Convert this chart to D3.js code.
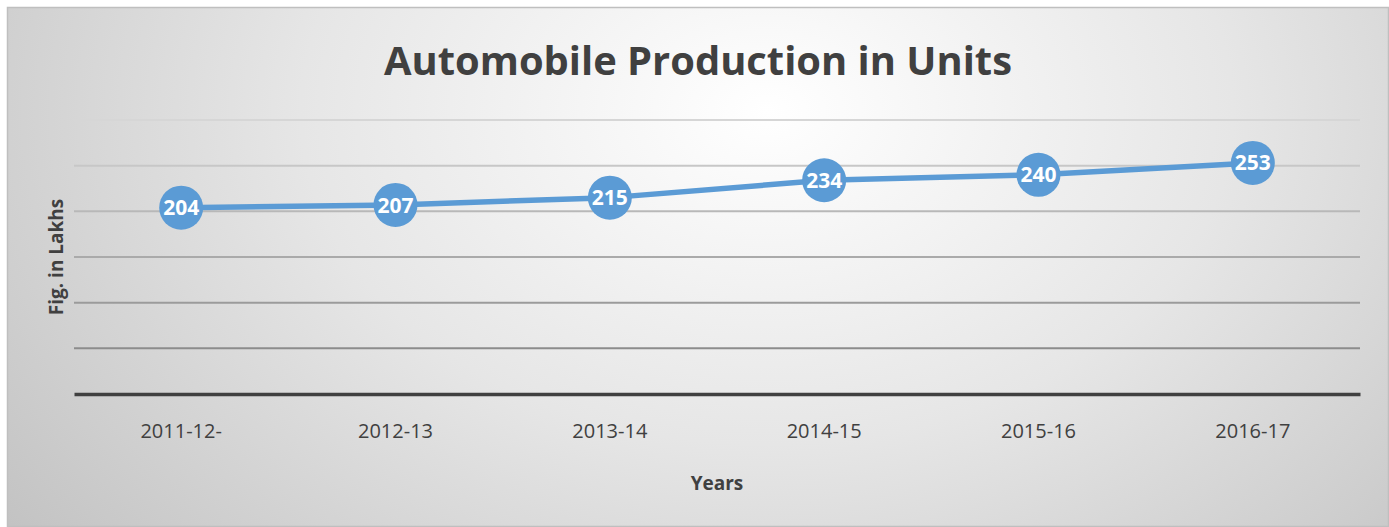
<!DOCTYPE html>
<html>
<head>
<meta charset="utf-8">
<script src="https://cdn.jsdelivr.net/npm/d3@7"></script>
<style>
    body { margin: 0; background: #ffffff; }
    svg { display: block; font-family: "Open Sans", "Noto Sans", sans-serif; }
</style>
</head>
<body>
<svg id="line-chart"></svg>
<script>
// Chart data
const years = ["2011-12-", "2012-13", "2013-14", "2014-15", "2015-16", "2016-17"];
const production = [204, 207, 215, 234, 240, 253];
const y_ticks = [0, 50, 100, 150, 200, 250, 300];

// Dimensions of the page and of the plot area
const width = 1389, height = 527;
const margins = { top: 120, right: 29, bottom: 133, left: 74 };
const chart_width = width - margins.left - margins.right;
const chart_height = height - margins.top - margins.bottom;

const svg = d3.select("#line-chart")
    .attr("width", width)
    .attr("height", height);

// Radial gradient for the background
const defs = svg.append("defs");
const bg_gradient = defs.append("radialGradient")
    .attr("id", "bg-gradient")
    .attr("cx", "0.55").attr("cy", "0.2")
    .attr("r", "0.75")
    .attr("gradientTransform", "translate(0.55,0.2) scale(1,1.9) translate(-0.55,-0.2)");
bg_gradient.append("stop").attr("offset", "0%").attr("stop-color", "#ffffff");
bg_gradient.append("stop").attr("offset", "45%").attr("stop-color", "#e6e6e6");
bg_gradient.append("stop").attr("offset", "100%").attr("stop-color", "#bdbdbd");

svg.append("rect")
    .attr("x", 7.5).attr("y", 7.5)
    .attr("width", width - 8).attr("height", height - 8)
    .attr("fill", "url(#bg-gradient)")
    .attr("stroke", "#bfbfbf")
    .attr("stroke-width", 1.5);

// Scales
const x_scale = d3.scaleBand()
    .domain(years)
    .range([0, chart_width]);
const y_scale = d3.scaleLinear()
    .domain([0, 300])
    .range([chart_height, 0]);

const chart = svg.append("g")
    .attr("transform", `translate(${margins.left}, ${margins.top})`);

// Gridlines, getting darker toward the bottom
const grid_color = d3.scaleLinear()
    .domain([300, 50])
    .range(["#d6d6d6", "#8c8c8c"]);
chart.append("g")
    .selectAll("line")
    .data(y_ticks.filter(d => d > 0))
    .join("line")
    .attr("x1", 0)
    .attr("x2", chart_width)
    .attr("y1", d => y_scale(d))
    .attr("y2", d => y_scale(d))
    .attr("stroke", d => grid_color(d))
    .attr("stroke-width", 2);

// X-axis with baseline
const x_axis = chart.append("g")
    .attr("transform", `translate(0, ${chart_height})`)
    .call(d3.axisBottom(x_scale).tickSize(0).tickPadding(30));
x_axis.select(".domain")
    .attr("stroke", "#404040")
    .attr("stroke-width", 3.5);
x_axis.selectAll("text")
    .style("font-family", "'Open Sans', sans-serif")
    .style("font-size", "20px")
    .attr("fill", "#404040");

// The line
const line = d3.line()
    .x((d, i) => x_scale(years[i]) + x_scale.bandwidth() / 2)
    .y(d => y_scale(d));
chart.append("path")
    .datum(production)
    .attr("d", line)
    .attr("fill", "none")
    .attr("stroke", "#5b9bd5")
    .attr("stroke-width", 5.5)
    .attr("stroke-linejoin", "round");

// Bubbles with value labels
const points = chart.append("g")
    .selectAll("g")
    .data(production)
    .join("g")
    .attr("transform", (d, i) => `translate(${x_scale(years[i]) + x_scale.bandwidth() / 2}, ${y_scale(d)})`);
points.append("circle")
    .attr("r", 22)
    .attr("fill", "#5b9bd5");
points.append("text")
    .attr("text-anchor", "middle")
    .attr("dy", "0.36em")
    .attr("fill", "#ffffff")
    .style("font-size", "21px")
    .style("font-weight", "bold")
    .text(d => d);

// Title
const title = svg.append("text")
    .attr("x", 698)
    .attr("y", 75)
    .attr("text-anchor", "middle")
    .attr("fill", "#404040")
    .style("font-size", "40px")
    .style("font-weight", "bold")
    .text("Automobile Production in Units");
title.attr("textLength", 628).attr("lengthAdjust", "spacingAndGlyphs");

// Axis titles
svg.append("text")
    .attr("x", 717)
    .attr("y", 490)
    .attr("text-anchor", "middle")
    .attr("fill", "#404040")
    .style("font-size", "19px")
    .style("font-weight", "bold")
    .text("Years");

svg.append("text")
    .attr("transform", "translate(63, 257) rotate(-90)")
    .attr("text-anchor", "middle")
    .attr("fill", "#404040")
    .style("font-size", "19px")
    .style("font-weight", "bold")
    .text("Fig. in Lakhs");
</script>
</body>
</html>
